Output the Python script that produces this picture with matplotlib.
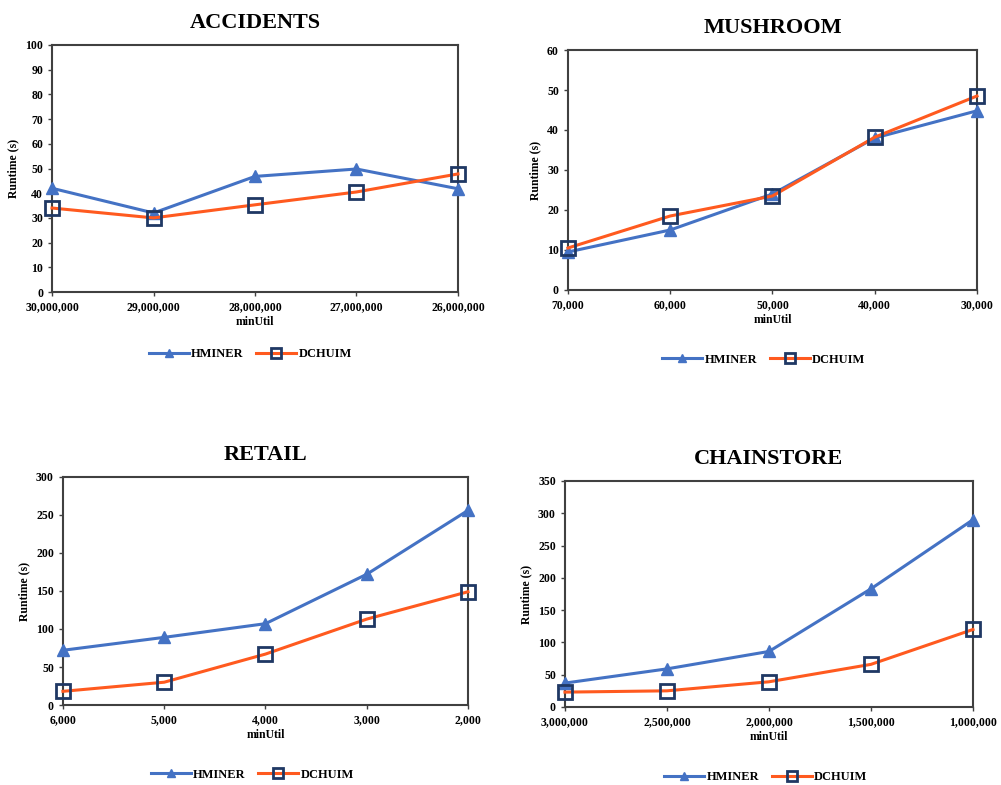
import matplotlib
matplotlib.use("Agg")
import matplotlib.pyplot as plt

plt.rcParams['font.family'] = ['Liberation Serif', 'DejaVu Serif']
plt.rcParams['font.weight'] = 'bold'

# data
acc_x = ['30,000,000', '29,000,000', '28,000,000', '27,000,000', '26,000,000']
acc_hminer = [42, 32, 46.8, 49.8, 41.8]
acc_dchuim = [34, 30, 35.3, 40.5, 47.8]

mush_x = ['70,000', '60,000', '50,000', '40,000', '30,000']
mush_hminer = [9.5, 15, 24, 38, 44.8]
mush_dchuim = [10.5, 18.5, 23.5, 38.2, 48.5]

ret_x = ['6,000', '5,000', '4,000', '3,000', '2,000']
ret_hminer = [72, 89, 107, 172, 256]
ret_dchuim = [18, 30, 67, 113, 149]

chain_x = ['3,000,000', '2,500,000', '2,000,000', '1,500,000', '1,000,000']
chain_hminer = [37, 59, 86, 183, 290]
chain_dchuim = [23, 25, 39, 66, 120]

blue = '#4472C4'
orange = '#FF5A1F'
navy = '#1F3864'

fig = plt.figure(figsize=(10.01, 7.85), dpi=100)

panels = [
    ('ACCIDENTS', acc_x, acc_hminer, acc_dchuim, 100, 10,
     [0.052, 0.628, 0.4055, 0.3147], (0.250, 0.549)),
    ('MUSHROOM', mush_x, mush_hminer, mush_dchuim, 60, 10,
     [0.5674, 0.6306, 0.4086, 0.3057], (0.763, 0.542)),
    ('RETAIL', ret_x, ret_hminer, ret_dchuim, 300, 50,
     [0.0629, 0.1019, 0.4046, 0.2905], (0.252, 0.013)),
    ('CHAINSTORE', chain_x, chain_hminer, chain_dchuim, 350, 50,
     [0.5644, 0.0994, 0.4076, 0.2879], (0.765, 0.010)),
]

for title, xl, h, d, ymax, step, pos, lpos in panels:
    ax = fig.add_axes(pos)
    xs = range(len(xl))
    ax.plot(xs, h, color=blue, lw=2.2, marker='^', ms=9, mfc=blue, mec=blue,
            label='HMINER', clip_on=False, zorder=3)
    ax.plot(xs, d, color=orange, lw=2.2, marker='s', ms=10, mfc='none', mec=navy,
            mew=2, label='DCHUIM', clip_on=False, zorder=4)
    ax.set_xlim(0, len(xl) - 1)
    ax.set_ylim(0, ymax)
    ax.set_yticks(range(0, ymax + 1, step))
    ax.set_xticks(list(xs))
    ax.set_xticklabels(xl)
    ax.tick_params(labelsize=8.5, length=3, width=1, color='#404040')
    for s in ax.spines.values():
        s.set_linewidth(1.5)
        s.set_color('#404040')
    ax.set_xlabel('minUtil', fontsize=8.5, fontweight='bold', labelpad=2)
    ax.set_ylabel('Runtime (s)', fontsize=8.5, fontweight='bold')
    ax.set_title(title, fontsize=16, fontweight='bold', pad=12)
    ax.legend(loc='center', bbox_to_anchor=lpos, bbox_transform=fig.transFigure,
              ncol=2, frameon=False, fontsize=9, handlelength=3.2,
              columnspacing=1.0, handletextpad=0.2, markerscale=0.65)

fig.savefig('out.png', dpi=100)
